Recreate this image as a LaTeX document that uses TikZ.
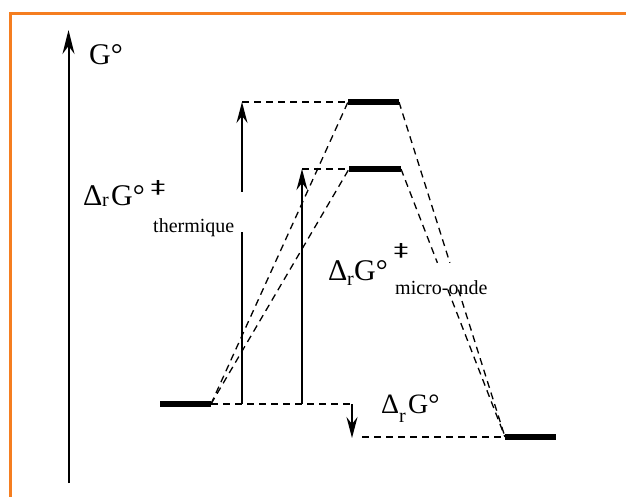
\documentclass[tikz,border=0pt]{standalone}
\usepackage{fontspec}
\setmainfont{Liberation Serif}
\newfontfamily\dejavu{DejaVu Sans}
\usetikzlibrary{arrows.meta,calc}
\definecolor{frameorange}{RGB}{245,126,32}
\begin{document}
\begin{tikzpicture}[x=1pt,y=-1pt,
  level/.style={line width=6pt},
  guide/.style={dash pattern=on 7pt off 5pt, line width=1.3pt},
  plain/.style={line width=1.5pt},
  arr/.style={line width=1.5pt, -{Stealth[length=21pt,width=11pt,inset=7pt]}},
  big/.style={inner sep=0pt, anchor=base west, font=\fontsize{30}{36}\selectfont},
  mid/.style={inner sep=0pt, anchor=base west, font=\fontsize{28}{34}\selectfont},
  small/.style={inner sep=0pt, anchor=base west, font=\fontsize{20}{24}\selectfont},
  dag/.style={inner sep=0pt, anchor=center, font=\dejavu\fontsize{17}{20}\selectfont}]
\useasboundingbox (0,0) rectangle (626,497);
% frame
\draw[frameorange, line width=3pt] (10.5,497) -- (10.5,13.5) -- (626,13.5);
% axis
\coordinate (ax0) at (68.5,483);
\coordinate (ax1) at (68.5,30);
\draw[line width=2pt, -{Stealth[length=24pt,width=12pt,inset=8pt]}] (ax0) -- (ax1);
\node[big] (gaxis) at (89,65) {G°};
% levels
\coordinate (R1) at (160,404);
\coordinate (R2) at (211,404);
\coordinate (T1a) at (348,102);
\coordinate (T1b) at (399,102);
\coordinate (T2a) at (349,169);
\coordinate (T2b) at (401,169);
\coordinate (P1) at (505,437);
\coordinate (P2) at (556,437);
\draw[level] (R1) -- (R2);
\draw[level] (T1a) -- (T1b);
\draw[level] (T2a) -- (T2b);
\draw[level] (P1) -- (P2);
% arrow coordinates
\coordinate (a1b) at (242,404);
\coordinate (a1m) at (242,232);
\coordinate (a1n) at (242,192);
\coordinate (a1t) at (242,102);
\coordinate (a2b) at (302,404);
\coordinate (a2t) at (302,169);
\coordinate (a3t) at (352,404);
\coordinate (a3b) at (352,438);
\coordinate (c3) at (362,437);
% dashed guides
\draw[guide] (R2) -- (T1a);
\draw[guide] (R2) -- (T2a);
\draw[guide] (T1b) -- ($(T1b)!0.48!(P1)$);
\draw[guide] ($(T1b)!0.56!(P1)$) -- (P1);
\draw[guide] (T2b) -- ($(T2b)!0.35!(P1)$);
\draw[guide] ($(T2b)!0.45!(P1)$) -- (P1);
\draw[guide] (a1t) -- (T1a);
\draw[guide] (a2t) -- (T2a);
\draw[guide] (R2) -- (a3t);
\draw[guide] (c3) -- (P1);
% arrows
\draw[plain] (a1b) -- (a1m);
\draw[arr] (a1n) -- (a1t);
\draw[arr] (a2b) -- (a2t);
\draw[arr] (a3t) -- (a3b);
% label thermique
\node[big] (d1) at (83,205) {Δ};
\node[small] (r1) at (102,207) {r};
\node[big] (g1) at (111,205) {G°};
\node[dag] (dd1) at (158,188) {\scalebox{1.7}[1.05]{‡}};
\node[small] (t1) at (153,232) {thermique};
% label micro-onde
\node[big] (d2) at (328,280) {Δ};
\node[small] (r2) at (347,285) {r};
\node[big] (g2) at (354,280) {G°};
\node[dag] (dd2) at (401,251) {\scalebox{1.7}[1.05]{‡}};
\node[small] (t2) at (395,294) {micro-onde};
% label reaction
\node[mid] (d3) at (381,413) {Δ};
\node[small] (r3) at (399,422) {r};
\node[mid] (g3) at (408,413) {G°};
\end{tikzpicture}
\end{document}
